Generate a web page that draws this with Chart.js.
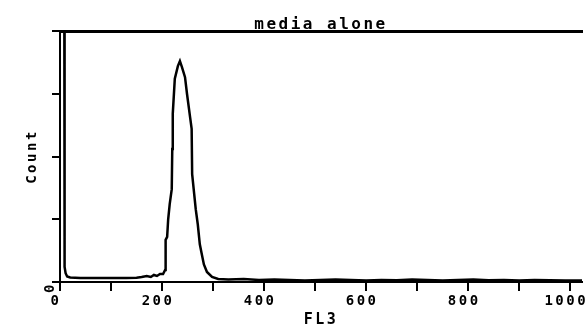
<!DOCTYPE html>
<html><head><meta charset="utf-8">
<script src="https://cdn.jsdelivr.net/npm/chart.js@4/dist/chart.umd.min.js"></script>
<style>html,body{margin:0;padding:0;background:#fff}#wrap{width:585px;height:333px}</style>
</head><body><div id="wrap"><canvas id="c" width="585" height="333"></canvas></div>
<script>
// FL3 channel positions and counts
const channels = [2, 8, 9, 11, 14, 20, 40, 70, 100, 130, 150, 160, 170, 178, 184, 190, 196, 202,
  206, 207, 210, 212, 215, 219, 220, 221, 225, 231, 235, 239, 245, 249, 255, 258, 259, 263, 266,
  270, 274, 278, 282, 288, 298, 310, 330, 360, 390, 420, 450, 480, 510, 540, 570, 600, 630, 660,
  690, 720, 750, 780, 810, 840, 870, 900, 930, 960, 990, 1023];
const counts = [200, 200, 6, 3.5, 2.2, 1.8, 1.6, 1.6, 1.6, 1.6, 1.7, 2.0, 2.4, 2.0, 2.8, 2.4, 3.2, 3.2,
  4.8, 16.8, 18, 25, 31, 37, 53, 67, 81, 86, 88, 85.6, 81.6, 74.8, 65.6, 61, 43, 35, 29,
  23, 15, 11, 7, 4, 2, 1.2, 1.0, 1.2, 0.8, 1.0, 0.8, 0.6, 0.8, 1.0, 0.8, 0.6, 0.8, 0.7,
  1.0, 0.8, 0.6, 0.8, 1.0, 0.7, 0.8, 0.6, 0.8, 0.7, 0.6, 0.6];
const xLabels = [0, 200, 400, 600, 800, 1000];
const yLabels = [0];
const chartTitle = 'media alone';
const xTitle = 'FL3';
const yTitle = 'Count';

const FONT = "'DejaVu Sans Mono', monospace";
const spacing = {
  id: 'spacing',
  beforeDraw(chart) { chart.ctx.letterSpacing = '2.5px'; },
  afterDatasetsDraw(chart) { chart.ctx.letterSpacing = '4px'; },
  afterDraw(chart) { chart.ctx.letterSpacing = '0px'; }
};

new Chart(document.getElementById('c'), {
  type: 'line',
  data: { datasets: [{
    data: channels.map((c, i) => ({ x: c, y: counts[i] })),
    borderColor: '#000', borderWidth: 2.5, pointRadius: 0, tension: 0, fill: false
  }] },
  plugins: [spacing],
  options: {
    responsive: false, animation: false,
    layout: { padding: { left: 0, right: 3, top: 0, bottom: 0 } },
    plugins: { legend: { display: false }, tooltip: { enabled: false }, title: { display: false } },
    scales: {
      x: {
        type: 'linear', position: 'bottom', min: 0, max: 1023,
        afterFit(s) { s.height = 51; s.paddingLeft = 0; s.paddingRight = 0; },
        border: { display: true, color: '#000', width: 2 },
        grid: { drawOnChartArea: false, drawTicks: true, tickLength: 9, color: '#000', lineWidth: 2 },
        ticks: {
          stepSize: 100, autoSkip: false, includeBounds: false, maxRotation: 0, minRotation: 0,
          color: '#000', padding: 2, labelOffset: -4,
          font: { family: FONT, size: 14, weight: 'bold' },
          callback: v => xLabels.includes(v) ? String(v) : ''
        },
        title: { display: true, text: xTitle, color: '#000', padding: { top: 0, bottom: 4 },
          font: { family: FONT, size: 15, weight: 'bold' } }
      },
      x2: {
        type: 'linear', position: 'top', min: 0, max: 1023, z: 1,
        afterFit(s) { s.height = 31; s.paddingLeft = 0; s.paddingRight = 0; },
        border: { display: true, color: '#000', width: 3 },
        grid: { drawOnChartArea: false, drawTicks: false },
        ticks: { display: false },
        title: { display: true, text: chartTitle, color: '#000', padding: { top: 15, bottom: 0 },
          font: { family: FONT, size: 16, weight: 'bold' } }
      },
      y: {
        type: 'linear', position: 'left', min: 0, max: 100,
        afterFit(s) { s.width = 60; s.paddingTop = 0; s.paddingBottom = 0; },
        border: { display: true, color: '#000', width: 2 },
        grid: { drawOnChartArea: false, drawTicks: true, tickLength: 8, color: '#000', lineWidth: 2 },
        ticks: {
          stepSize: 25, autoSkip: false, minRotation: 90, maxRotation: 90, color: '#000', padding: 2,
          font: { family: FONT, size: 14, weight: 'bold' },
          callback: v => yLabels.includes(v) ? String(v) : ''
        },
        title: { display: true, text: yTitle, color: '#000', padding: { top: 24, bottom: 0 },
          font: { family: FONT, size: 14, weight: 'bold' } }
      }
    }
  }
});
</script></body></html>
